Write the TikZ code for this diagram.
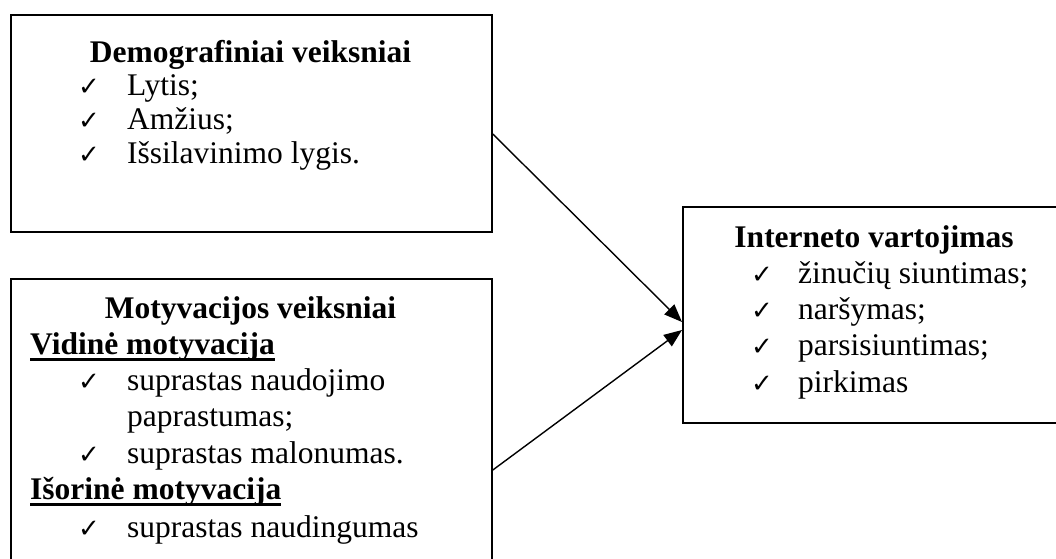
\documentclass[tikz,border=0pt]{standalone}
\usepackage{fontspec}
\setmainfont{Liberation Serif}
\newfontfamily\symfont{DejaVu Sans}
\usetikzlibrary{arrows.meta}
% bold heading with a heavy rule under it
\newcommand\ulhead[1]{\setbox0\hbox{\bfseries #1}\rlap{\rule[-7pt]{\wd0}{3pt}}\box0}
\newcommand\chk{{\symfont\bfseries\fontsize{26}{26}\selectfont ✓}}
\tikzset{
  box/.style={draw, line width=1.8pt, rectangle, anchor=north west, inner sep=0pt},
  txt/.style={anchor=base west, inner sep=0pt, font=\fontsize{31.5}{36}\selectfont},
  head/.style={anchor=base, inner sep=0pt, font=\fontsize{31.5}{36}\selectfont\bfseries},
  tick/.style={anchor=base west, inner sep=0pt},
  link/.style={line width=1.4pt, -{Triangle[length=18pt,width=14pt]}}
}
\begin{document}
\begin{tikzpicture}[x=1pt,y=-1pt]
\useasboundingbox (0,0) rectangle (1056,558);
\clip (0,0) rectangle (1056,558);
% boxes
\node[box, minimum width=481pt, minimum height=217pt] (demo) at (10,14) {};
\node[box, minimum width=481pt, minimum height=320pt] (moti) at (10,278) {};
\node[box, minimum width=384pt, minimum height=216pt] (inet) at (682,206) {};
% demographic factors
\node[head] (dh) at (250.5,62) {Demografiniai veiksniai};
\node[tick] (dc1) at (78,95) {\chk};
\node[txt] (dt1) at (127,95) {Lytis;};
\node[tick] (dc2) at (78,129) {\chk};
\node[txt] (dt2) at (127,129) {Amžius;};
\node[tick] (dc3) at (78,163) {\chk};
\node[txt] (dt3) at (127,163) {Išsilavinimo lygis.};
% motivation factors
\node[head] (mh) at (250.5,318) {Motyvacijos veiksniai};
\node[txt] (mv) at (30,354) {\ulhead{Vidinė motyvacija}};
\node[tick] (mc1) at (78,390) {\chk};
\node[txt] (mt1) at (127,390) {suprastas naudojimo};
\node[txt] (mt1b) at (127,426) {paprastumas;};
\node[tick] (mc2) at (78,463) {\chk};
\node[txt] (mt2) at (127,463) {suprastas malonumas.};
\node[txt] (mi) at (30,499) {\ulhead{Išorinė motyvacija}};
\node[tick] (mc3) at (78,537) {\chk};
\node[txt] (mt3) at (127,537) {suprastas naudingumas};
% internet use
\node[head] (ih) at (874,247) {Interneto vartojimas};
\node[tick] (ic1) at (751,283) {\chk};
\node[txt] (it1) at (798,283) {žinučių siuntimas;};
\node[tick] (ic2) at (751,319) {\chk};
\node[txt] (it2) at (798,319) {naršymas;};
\node[tick] (ic3) at (751,355) {\chk};
\node[txt] (it3) at (798,355) {parsisiuntimas;};
\node[tick] (ic4) at (751,392) {\chk};
\node[txt] (it4) at (798,392) {pirkimas};
% connectors
\coordinate (s1) at (demo.east |- 0,134);
\coordinate (s2) at (moti.east |- 0,470);
\coordinate (e1) at (inet.west |- 0,322);
\coordinate (e2) at (inet.west |- 0,330);
\draw[link] (s1) -- (e1);
\draw[link] (s2) -- (e2);
\end{tikzpicture}
\end{document}
